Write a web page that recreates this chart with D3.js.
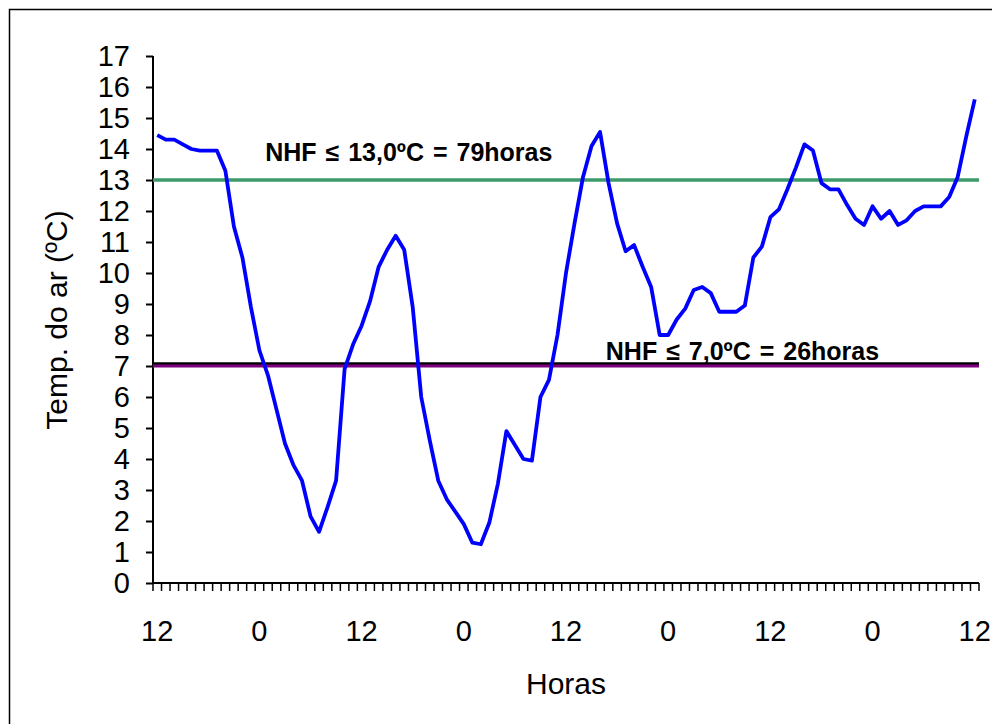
<!DOCTYPE html>
<html>
<head>
<meta charset="utf-8">
<script src="https://cdn.jsdelivr.net/npm/d3@7"></script>
<style>
	body { margin: 0; background: #fff; }
	svg { display: block; font-family: "Liberation Sans", Arial, sans-serif; }
</style>
</head>
<body>
<svg id="chart" width="992" height="724"></svg>
<script>

// hourly air temperature, starting at 12h, four days
var temps = [
	14.45, 14.3, 14.3, 14.15, 14.0, 13.95, 13.95, 13.95, 13.3, 11.5, 10.5, 8.9,
	7.5, 6.7, 5.6, 4.5, 3.8, 3.3, 2.15, 1.65, 2.45, 3.3, 6.9, 7.7,
	8.3, 9.1, 10.2, 10.75, 11.2, 10.75, 8.9, 6.0, 4.6, 3.3, 2.7, 2.3,
	1.9, 1.3, 1.25, 1.95, 3.2, 4.9, 4.45, 4.0, 3.95, 6.0, 6.55, 8.0,
	10.0, 11.6, 13.1, 14.1, 14.55, 12.9, 11.6, 10.7, 10.9, 10.2, 9.55, 8.0,
	8.0, 8.5, 8.85, 9.45, 9.55, 9.35, 8.75, 8.75, 8.75, 8.95, 10.5, 10.85,
	11.8, 12.05, 12.7, 13.4, 14.15, 13.95, 12.9, 12.7, 12.7, 12.2, 11.75, 11.55,
	12.15, 11.75, 12.0, 11.55, 11.7, 12.0, 12.15, 12.15, 12.15, 12.45, 13.1, 14.4,
	15.6
];

var hourLabels = ['12', '0', '12', '0', '12', '0', '12', '0', '12'];
var yTicks = [0, 1, 2, 3, 4, 5, 6, 7, 8, 9, 10, 11, 12, 13, 14, 15, 16, 17];

var limitValues = [13, 7.07, 7];
var limitColors = ['#3d9a6b', '#000000', '#7f007f'];

var noteTexts = ['NHF ≤ 13,0ºC = 79horas', 'NHF ≤ 7,0ºC = 26horas'];
var noteValues = [13, 7];

var config = {
	margin: {top: 56, left: 153, right: 979, bottom: 583},
	font: 29,
	notes: [{idx: 13, dy: -19}, {idx: 53, dy: -6}]
};

var svg = d3.select('#chart');

svg.append('rect')
	.attr('x', 9.5).attr('y', 9.5)
	.attr('width', 1100).attr('height', 900)
	.attr('fill', '#fff').attr('stroke', '#000').attr('stroke-width', 1.5);

var x = d3.scaleBand()
	.domain(d3.range(temps.length))
	.range([config.margin.left, config.margin.right]);

var y = d3.scaleLinear()
	.domain([0, 17])
	.range([config.margin.bottom, config.margin.top]);

var bw = x.bandwidth();
function cx(i) { return x(i) + bw / 2; }

// y axis
var yAxis = svg.append('g')
	.attr('transform', 'translate(' + config.margin.left + ',0)')
	.call(d3.axisLeft(y).tickValues(yTicks).tickSize(7).tickPadding(16).tickFormat(d3.format('d')));

yAxis.select('.domain').attr('d', 'M0,' + y(17) + 'V' + y(0)).attr('stroke-width', 2);
yAxis.selectAll('.tick line').attr('stroke-width', 2);
yAxis.selectAll('.tick text')
	.attr('font-size', config.font)
	.attr('font-family', '"Liberation Sans", Arial, sans-serif')
	.attr('fill', '#000');

// x axis: a tick at every category boundary
var xg = svg.append('g');

xg.append('line')
	.attr('x1', config.margin.left).attr('x2', config.margin.right)
	.attr('y1', y(0)).attr('y2', y(0))
	.attr('stroke', '#000').attr('stroke-width', 2);

xg.selectAll('line.minor')
	.data(d3.range(temps.length + 1))
	.enter()
	.append('line')
	.attr('class', 'minor')
	.attr('x1', function(d){ return config.margin.left + d * bw; })
	.attr('x2', function(d){ return config.margin.left + d * bw; })
	.attr('y1', y(0)).attr('y2', y(0) + 8)
	.attr('stroke', '#000').attr('stroke-width', 1.5);

xg.selectAll('text.hour')
	.data(hourLabels)
	.enter()
	.append('text')
	.attr('class', 'hour')
	.attr('x', function(d, i){ return cx(i * 12); })
	.attr('y', y(0) + 58)
	.attr('text-anchor', 'middle')
	.attr('font-size', config.font)
	.text(function(d){ return d; });

// threshold lines
svg.selectAll('line.limit')
	.data(limitValues)
	.enter()
	.append('line')
	.attr('class', 'limit')
	.attr('x1', config.margin.left).attr('x2', config.margin.right)
	.attr('y1', function(d){ return y(d); })
	.attr('y2', function(d){ return y(d); })
	.attr('stroke', function(d, i){ return limitColors[i]; })
	.attr('stroke-width', function(d, i){ return i === 0 ? 3.5 : 3; });

// temperature line
var line = d3.line()
	.x(function(d, i){ return cx(i); })
	.y(function(d){ return y(d); });

svg.append('path')
	.datum(temps)
	.attr('d', line)
	.attr('fill', 'none')
	.attr('stroke', '#0000ff')
	.attr('stroke-width', 3.8)
	.attr('stroke-linejoin', 'round');

// annotations
svg.selectAll('text.note')
	.data(noteTexts)
	.enter()
	.append('text')
	.attr('class', 'note')
	.attr('x', function(d, i){ return x(config.notes[i].idx) + 1.5; })
	.attr('y', function(d, i){ return y(noteValues[i]) + config.notes[i].dy; })
	.attr('font-size', 25)
	.attr('font-weight', 'bold')
	.attr('word-spacing', 2)
	.text(function(d){ return d; });

// axis titles
svg.append('text')
	.attr('x', 566).attr('y', 694)
	.attr('text-anchor', 'middle')
	.attr('font-size', 30)
	.text('Horas');

svg.append('text')
	.attr('transform', 'translate(67,320) rotate(-90)')
	.attr('text-anchor', 'middle')
	.attr('font-size', 30)
	.text('Temp. do ar (ºC)');

</script>
</body>
</html>
